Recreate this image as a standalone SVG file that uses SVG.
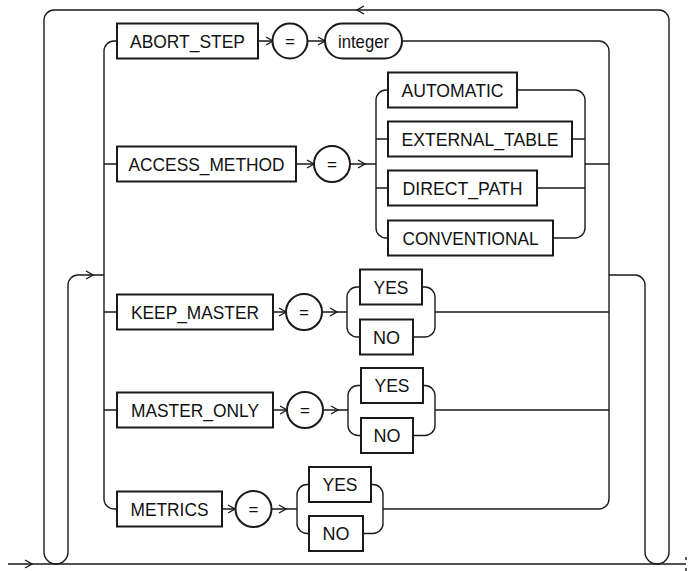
<svg xmlns="http://www.w3.org/2000/svg" width="689" height="571" viewBox="0 0 689 571">
<style>
.ln{fill:none;stroke:#1a1a1a;stroke-width:1.4}
.bx{fill:#fff;stroke:#1a1a1a;stroke-width:2}
.ar{fill:none;stroke:#1a1a1a;stroke-width:1.4}
text{font-family:"Liberation Sans",Arial,sans-serif;font-size:19px;fill:#111;text-anchor:middle}
.eq{font-size:17px}
</style>
<rect width="689" height="571" fill="#fff"/>
<g id="connectors">
<path class="ln" d="M8,564 H686"/>
<path class="ln" d="M686,557 V560 M686,568 V571" stroke-width="1"/>
<path class="ln" d="M609,275 H635 A10,10 0 0 1 645,285 V552 A12,12 0 0 0 669,552 V20 A10,10 0 0 0 659,10 H54 A10,10 0 0 0 44,20 V552 A12,12 0 0 0 68,552 V285 A10,10 0 0 1 78,275 H104"/>
<path class="ln" d="M117,41 H114 A10,10 0 0 0 104,51 V499 A10,10 0 0 0 114,509 H117"/>
<path class="ln" d="M104,164 H117 M104,312 H117 M104,410 H117"/>
<path class="ln" d="M402,41 H599 A10,10 0 0 1 609,51 V499 A10,10 0 0 1 599,509 H383"/>
<path class="ln" d="M258,41 H273 M307,41 H325"/>
<path class="ln" d="M296,164 H314 M350,164 H376"/>
<path class="ln" d="M388,90 H386 A10,10 0 0 0 376,100 V228 A10,10 0 0 0 386,238 H388 M376,139 H388 M376,188 H388"/>
<path class="ln" d="M517,90 H575 A10,10 0 0 1 585,100 V228 A10,10 0 0 1 575,238 H553 M572,139 H585 M537,188 H585 M585,164 H609"/>
<path class="ln" d="M273,312 H286 M322,312 H347"/>
<path class="ln" d="M360,287 H357 A10,10 0 0 0 347,297 V327 A10,10 0 0 0 357,337 H360"/>
<path class="ln" d="M422,287 H425 A10,10 0 0 1 435,297 V327 A10,10 0 0 1 425,337 H413 M435,312 H609"/>
<path class="ln" d="M273,410 H287 M323,410 H348"/>
<path class="ln" d="M361,385.5 H358 A10,10 0 0 0 348,395.5 V425.5 A10,10 0 0 0 358,435.5 H361"/>
<path class="ln" d="M423,385.5 H425 A10,10 0 0 1 435,395.5 V425.5 A10,10 0 0 1 425,435.5 H413 M435,410 H609"/>
<path class="ln" d="M222,509 H235.5 M271.5,509 H297"/>
<path class="ln" d="M309,484.5 H307 A10,10 0 0 0 297,494.5 V523.5 A10,10 0 0 0 307,533.5 H309"/>
<path class="ln" d="M371,484.5 H373 A10,10 0 0 1 383,494.5 V523.5 A10,10 0 0 1 373,533.5 H363"/>
<path class="ar" d="M266,37 L273,41 L266,45 M318,37 L325,41 L318,45 M307,160 L314,164 L307,168 M358,160 L365,164 L358,168 M279,308 L286,312 L279,316 M330,308 L337,312 L330,316 M280,406 L287,410 L280,414 M331,406 L338,410 L331,414 M228,505 L235,509 L228,513 M279,505 L286,509 L279,513 M86,271 L93,275 L86,279 M25,560 L32,564 L25,568 M364,6 L357,10 L364,14"/>
</g>
<g id="n-abort"><rect class="bx" x="117" y="23.5" width="141" height="35"/><text x="187.5" y="47.5" textLength="115" lengthAdjust="spacingAndGlyphs">ABORT_STEP</text></g>
<g id="n-eq1"><circle class="bx" cx="290" cy="41" r="17.5"/><text class="eq" x="290" y="47">=</text></g>
<g id="n-integer"><rect class="bx" x="325" y="23.5" width="77" height="35" rx="17.5"/><text x="363.5" y="47.5" textLength="51" lengthAdjust="spacingAndGlyphs">integer</text></g>
<g id="n-access"><rect class="bx" x="117" y="146.5" width="179" height="35"/><text x="206.5" y="170.5" textLength="156" lengthAdjust="spacingAndGlyphs">ACCESS_METHOD</text></g>
<g id="n-eq2"><circle class="bx" cx="332" cy="164" r="18"/><text class="eq" x="332" y="170">=</text></g>
<g id="n-automatic"><rect class="bx" x="388" y="72.5" width="129" height="35"/><text x="452.5" y="96.5" textLength="102" lengthAdjust="spacingAndGlyphs">AUTOMATIC</text></g>
<g id="n-external"><rect class="bx" x="388" y="121.5" width="184" height="35"/><text x="480" y="145.5" textLength="157" lengthAdjust="spacingAndGlyphs">EXTERNAL_TABLE</text></g>
<g id="n-direct"><rect class="bx" x="388" y="170.5" width="149" height="35"/><text x="462.5" y="194.5" textLength="120" lengthAdjust="spacingAndGlyphs">DIRECT_PATH</text></g>
<g id="n-conventional"><rect class="bx" x="388" y="220.5" width="165" height="35"/><text x="470.5" y="244.5" textLength="136" lengthAdjust="spacingAndGlyphs">CONVENTIONAL</text></g>
<g id="n-keep"><rect class="bx" x="117" y="294.5" width="156" height="35"/><text x="195" y="318.5" textLength="128" lengthAdjust="spacingAndGlyphs">KEEP_MASTER</text></g>
<g id="n-eq3"><circle class="bx" cx="304" cy="312" r="18"/><text class="eq" x="304" y="318">=</text></g>
<g id="n-yes1"><rect class="bx" x="360" y="269.5" width="62" height="35"/><text x="391" y="293.5" textLength="35" lengthAdjust="spacingAndGlyphs">YES</text></g>
<g id="n-no1"><rect class="bx" x="360" y="319.5" width="53" height="35"/><text x="386.5" y="343.5" textLength="27" lengthAdjust="spacingAndGlyphs">NO</text></g>
<g id="n-master"><rect class="bx" x="117" y="392.5" width="156" height="35"/><text x="195" y="416.5" textLength="128" lengthAdjust="spacingAndGlyphs">MASTER_ONLY</text></g>
<g id="n-eq4"><circle class="bx" cx="305" cy="410" r="18"/><text class="eq" x="305" y="416">=</text></g>
<g id="n-yes2"><rect class="bx" x="361" y="368" width="62" height="35"/><text x="392" y="392" textLength="35" lengthAdjust="spacingAndGlyphs">YES</text></g>
<g id="n-no2"><rect class="bx" x="361" y="418" width="52" height="35"/><text x="387" y="442" textLength="27" lengthAdjust="spacingAndGlyphs">NO</text></g>
<g id="n-metrics"><rect class="bx" x="117" y="491.5" width="105" height="35"/><text x="169.5" y="515.5" textLength="78" lengthAdjust="spacingAndGlyphs">METRICS</text></g>
<g id="n-eq5"><circle class="bx" cx="253.5" cy="509" r="18"/><text class="eq" x="253.5" y="515">=</text></g>
<g id="n-yes3"><rect class="bx" x="309" y="467" width="62" height="35"/><text x="340" y="491" textLength="35" lengthAdjust="spacingAndGlyphs">YES</text></g>
<g id="n-no3"><rect class="bx" x="309" y="516" width="54" height="35"/><text x="336" y="540" textLength="27" lengthAdjust="spacingAndGlyphs">NO</text></g>
</svg>
